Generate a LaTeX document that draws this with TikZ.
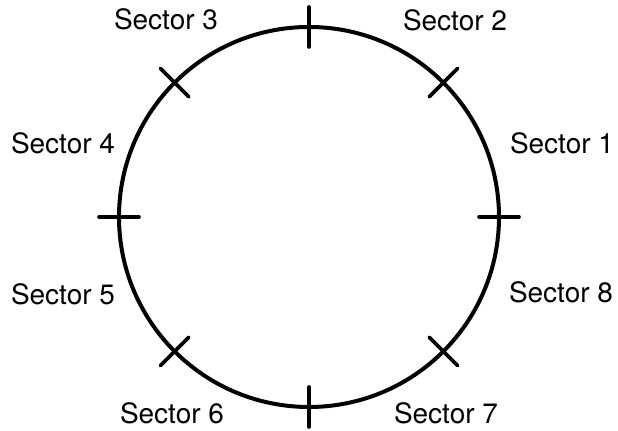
\documentclass[tikz,border=0pt]{standalone}
\usepackage{fontspec}
\setmainfont{TeX Gyre Heros}
\begin{document}
\begin{tikzpicture}[x=0.5pt, y=-0.5pt, every node/.style={font=\fontsize{14}{16}\selectfont, inner sep=0pt}]
\useasboundingbox (0,0) rectangle (618,431);
\coordinate (c) at (309,217);
\draw[line width=2pt] (c) circle[radius=95pt];
% sector boundaries
\foreach \a in {0,45,...,315}
  \draw[line width=1.8pt, line cap=round] ([shift={(\a:85pt)}]c) -- ([shift={(\a:105pt)}]c);
\node (s1) at (562,143) {Sector 1};
\node (s2) at (455,20) {Sector 2};
\node (s3) at (166,19) {Sector 3};
\node (s4) at (63,143) {Sector 4};
\node (s5) at (63,294) {Sector 5};
\node (s6) at (172,413) {Sector 6};
\node (s7) at (446,413) {Sector 7};
\node (s8) at (561,292) {Sector 8};
\end{tikzpicture}
\end{document}
